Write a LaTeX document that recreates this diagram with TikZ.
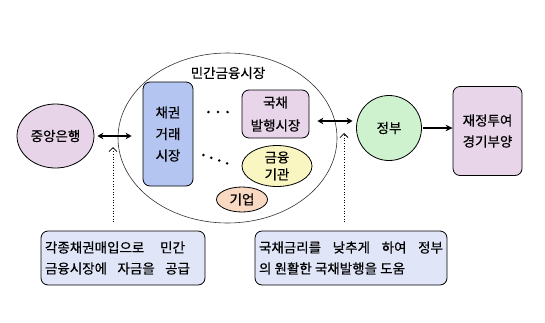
\documentclass[tikz,border=0pt]{standalone}
\usepackage{fontspec}
\setmainfont{Noto Sans CJK KR}[FakeBold=0.5]
\usetikzlibrary{arrows.meta,shapes.geometric}
\definecolor{cbfill}{HTML}{E8D4E8}
\definecolor{bondfill}{HTML}{B4C5F2}
\definecolor{lavfill}{HTML}{E8D5EA}
\definecolor{yelfill}{HTML}{FAF6C2}
\definecolor{peachfill}{HTML}{F9D9C1}
\definecolor{govfill}{HTML}{CDF2CD}
\definecolor{notefill}{HTML}{E1E5F8}
\begin{document}
\begin{tikzpicture}[x=1pt,y=-1pt,
  lbl/.style={font=\fontsize{13.5}{15}\selectfont, inner sep=0pt, align=center},
  ell/.style={ellipse, draw, line width=0.8pt, inner sep=0pt},
  rbox/.style={draw, rounded corners=7pt, line width=0.8pt, inner sep=0pt},
  dbl/.style={{Stealth[length=6pt,width=6.5pt]}-{Stealth[length=6pt,width=6.5pt]}, line width=1.8pt},
  arr/.style={-{Stealth[length=7pt,width=6.5pt]}, line width=1.8pt},
  dotarr/.style={-{Straight Barb[length=4pt,width=8pt,line width=0.8pt]}, dotted, line width=0.7pt},
  dotline/.style={line width=2.8pt, line cap=round, dash pattern=on 0pt off #1},
  note/.style={rbox, fill=notefill, font=\fontsize{13.5}{21}\selectfont, align=left, inner xsep=4pt}]
\useasboundingbox (0,0) rectangle (545,322);
% nodes
\node[ell, fill=cbfill, minimum width=77pt, minimum height=64pt, lbl] (cb) at (55.5,136) {중앙은행};
\node[ell, draw=black!80, line width=0.6pt, minimum width=219pt, minimum height=170pt] (mkt) at (227.5,138) {};
\node[lbl] (mkttitle) at (228,73) {민간금융시장};
\node[rbox, fill=bondfill, minimum width=50pt, minimum height=104pt, lbl, font=\fontsize{13.5}{21.5}\selectfont] (bond) at (168,134) {채권\\거래\\시장};
\node[rbox, fill=lavfill, minimum width=67pt, minimum height=48pt, lbl, font=\fontsize{13.5}{23}\selectfont] (gk) at (275.5,114) {국채\\발행시장};
\node[ell, fill=yelfill, minimum width=70pt, minimum height=38pt, lbl, font=\fontsize{13.5}{17}\selectfont] (fin) at (277,166) {금융\\기관};
\node[ell, fill=peachfill, minimum width=51pt, minimum height=25pt, lbl] (firm) at (242,199.5) {기업};
\node[circle, draw, line width=0.8pt, fill=govfill, minimum size=65pt, lbl] (gov) at (389,128) {정부};
\node[rbox, fill=lavfill, minimum width=69pt, minimum height=89pt, lbl, font=\fontsize{13.5}{21}\selectfont] (fis) at (487.5,131) {재정투여\\경기부양};
\node[note, text width=156pt, minimum height=54pt] (lnote) at (123,258)
  {\makebox[140pt][l]{각종채권매입으로\hfill 민간}\\\makebox[145pt][l]{금융시장에\hfill 자금을\hfill 공급}};
\node[note, text width=184pt, minimum height=54pt] (rnote) at (351,258)
  {\makebox[184pt][l]{국채금리를\hfill 낮추게\hfill 하여\hfill 정부}\\\makebox[146pt][l]{의\hfill 원활한\hfill 국채발행을\hfill 도움}};
% coordinates
\coordinate (ry) at (0,121);
\coordinate (ltip) at (113,147);
\coordinate (lfoot) at (113,222);
\coordinate (rtip) at (344,133);
\coordinate (rfoot) at (344,222);
% connectors
\draw[dbl, shorten <=3pt, shorten >=11pt] (cb.east) -- (bond.west |- cb.east);
\draw[dbl, shorten <=8pt, shorten >=3.5pt] (gk.east |- ry) -- (gov.west |- ry);
\draw[arr, shorten <=1.5pt] (gov.east) -- (fis.west |- gov.east);
\draw[dotarr] (lfoot) -- (ltip);
\draw[dotarr] (rfoot) -- (rtip);
\draw[dotline=9.6pt] ([xshift=15pt,yshift=22pt]bond.east) -- ([xshift=-5pt,yshift=2pt]gk.west);
\draw[dotline=8.4pt] ([xshift=10pt,yshift=-21pt]bond.east) -- ([xshift=-7pt]fin.west);
\end{tikzpicture}
\end{document}
